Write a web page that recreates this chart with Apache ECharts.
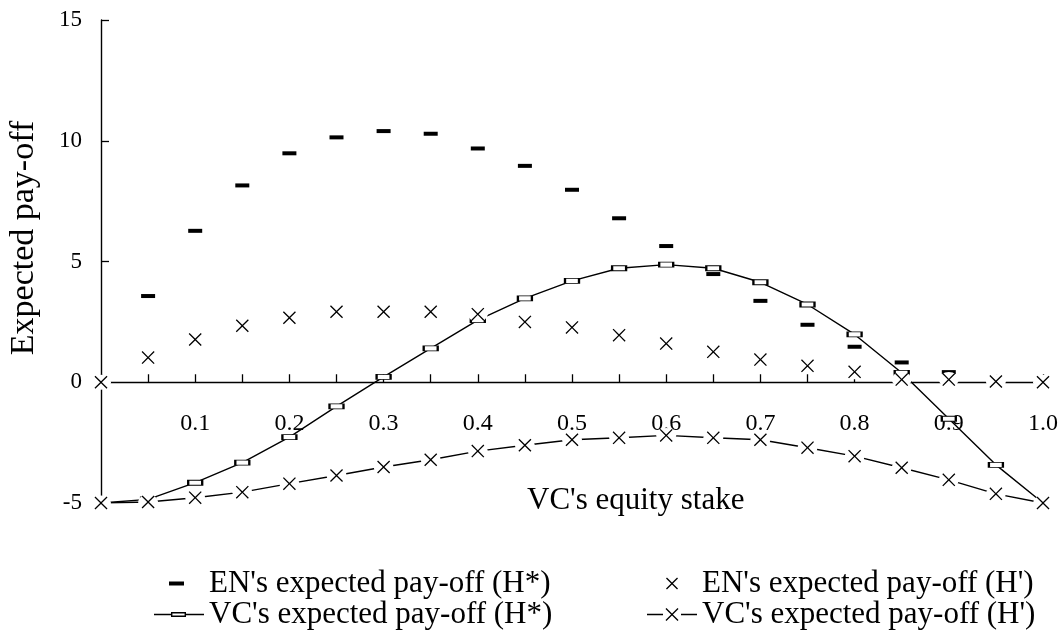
<!DOCTYPE html>
<html><head><meta charset="utf-8">
<script src="https://cdn.jsdelivr.net/npm/echarts@6/dist/echarts.min.js"></script>
<style>html,body{margin:0;padding:0;background:#fff}#c{width:1064px;height:630px}</style>
</head><body><div id="c"></div>
<script>
// ---- data ----
const stakes = [0, 0.05, 0.1, 0.15, 0.2, 0.25, 0.3, 0.35, 0.4, 0.45, 0.5, 0.55, 0.6, 0.65, 0.7, 0.75, 0.8, 0.85, 0.9, 0.95, 1.0];
const enHStar  = [0, 3.57, 6.27, 8.15, 9.48, 10.14, 10.40, 10.29, 9.68, 8.96, 7.97, 6.79, 5.64, 4.48, 3.37, 2.38, 1.47, 0.82, 0.42, 0.1, 0];
const vcHStar  = [-5, -4.85, -4.16, -3.33, -2.27, -1.0, 0.22, 1.40, 2.57, 3.47, 4.20, 4.72, 4.87, 4.72, 4.14, 3.22, 1.98, 0.39, -1.51, -3.42, -5];
const enHPrime = [0, 1.02, 1.77, 2.34, 2.67, 2.92, 2.92, 2.92, 2.82, 2.50, 2.27, 1.95, 1.60, 1.26, 0.94, 0.68, 0.43, 0.11, 0.11, 0.03, 0];
const vcHPrime = [-5, -4.96, -4.78, -4.55, -4.20, -3.86, -3.51, -3.21, -2.85, -2.61, -2.38, -2.30, -2.20, -2.30, -2.38, -2.71, -3.06, -3.54, -4.04, -4.62, -5];
const xTickLabels = ['0.1', '0.2', '0.3', '0.4', '0.5', '0.6', '0.7', '0.8', '0.9', '1.0'];
const yTickValues = [-5, 0, 5, 10, 15];
const names = ["EN's expected pay-off (H*)", "VC's expected pay-off (H*)", "EN's expected pay-off (H')", "VC's expected pay-off (H')"];
const xAxisTitle = "VC's equity stake";
const yAxisTitle = "Expected pay-off";

// ---- build ----
const pairs = arr => stakes.map((x, i) => [x, arr[i]]);
const FONT = 'Liberation Serif';
const CROSS = 'path://M0,7L7,0L50,43L93,0L100,7L57,50L100,93L93,100L50,57L7,100L0,93L43,50Z';
const SPECK = 'M0 0h0.01v0.01h-0.01Z M49.99 13.99h0.01v0.01h-0.01Z ';
const xIcon = (x0, x1, y0, y1) => {
  const k = 0.95, cx = (x0 + x1) / 2, cy = (y0 + y1) / 2;
  return `M${x0} ${y0 + k}L${x0 + k} ${y0}L${cx} ${cy - k}L${x1 - k} ${y0}L${x1} ${y0 + k}L${cx + k} ${cy}L${x1} ${y1 - k}L${x1 - k} ${y1}L${cx} ${cy + k}L${x0 + k} ${y1}L${x0} ${y1 - k}L${cx - k} ${cy}Z `;
};
const icons = [
  'path://' + SPECK + 'M15 5h15v4h-15Z',
  'path://' + SPECK + 'M0 6.3h17v1.4h-17Z M32 6.3h18v1.4h-18Z M17 4.5h15v5h-15Z M18.4 5.9v2.2h12.2v-2.2Z',
  'path://' + SPECK + xIcon(19, 31, 1, 13),
  'path://' + SPECK + 'M0 6.3h16v1.4h-16Z M34 6.3h16v1.4h-16Z ' + xIcon(18.5, 31.5, 0.5, 13.5)
];
const legendPos = [[149, 563], [149, 594], [642, 563], [642, 594]];
const legends = names.map((n, i) => ({
  left: legendPos[i][0], top: legendPos[i][1], orient: 'horizontal',
  itemWidth: 50, itemHeight: 14, selectedMode: false,
  itemStyle: { color: '#000', borderWidth: 0 },
  textStyle: { fontFamily: FONT, fontSize: 31, color: '#000' },
  data: [{ name: n, icon: icons[i] }]
}));

const GRID_TOP = 20, GRID_BOTTOM = 127, H = 630;
const yMin = yTickValues[0], yMax = yTickValues[yTickValues.length - 1];
const zeroOffset = -(H - GRID_TOP - GRID_BOTTOM) * (0 - yMin) / (yMax - yMin);

const chart = echarts.init(document.getElementById('c'));
chart.setOption({
  backgroundColor: '#fff',
  animation: false,
  grid: { left: 101, right: 21, top: GRID_TOP, bottom: GRID_BOTTOM, containLabel: false },
  legend: legends,
  graphic: [
    { type: 'text', left: 527, top: 485, style: { text: xAxisTitle, font: `31px "${FONT}"`, fill: '#000' } },
    { type: 'text', x: 24, y: 238, rotation: Math.PI / 2,
      style: { text: yAxisTitle, font: `34px "${FONT}"`, fill: '#000', align: 'center', verticalAlign: 'middle' } }
  ],
  xAxis: {
    type: 'value', min: 0, max: 1, interval: 0.05, position: 'bottom', offset: zeroOffset,
    axisLine: { show: true, onZero: false, lineStyle: { color: '#000', width: 1.4 } },
    axisTick: { show: true, inside: true, length: 8, lineStyle: { color: '#000', width: 1.3 } },
    splitLine: { show: false },
    axisLabel: {
      margin: 29, color: '#000', fontFamily: FONT, fontSize: 24,
      formatter: v => { const k = Math.round(v * 20); return (k > 0 && k % 2 === 0) ? xTickLabels[k / 2 - 1] : ''; }
    }
  },
  yAxis: {
    type: 'value', min: yMin, max: yMax, interval: 5,
    axisLine: { show: true, onZero: false, lineStyle: { color: '#000', width: 1.4 } },
    axisTick: { show: true, inside: true, length: 8, lineStyle: { color: '#000', width: 1.3 } },
    splitLine: { show: false },
    axisLabel: { margin: 19, color: '#000', fontFamily: FONT, fontSize: 23 }
  },
  series: [
    { name: names[1], type: 'line', data: pairs(vcHStar), symbol: 'none', z: 1,
      itemStyle: { color: '#000' }, lineStyle: { color: '#000', width: 1.4 } },
    { name: names[3], type: 'line', data: pairs(vcHPrime), symbol: 'none', z: 1,
      itemStyle: { color: '#000' }, lineStyle: { color: '#000', width: 1.4 } },
    { name: names[0], type: 'scatter', data: pairs(enHStar), symbol: 'rect', symbolSize: [14, 4], z: 2,
      itemStyle: { color: '#000', opacity: 1 } },
    { name: names[1], type: 'scatter', data: pairs(vcHStar), symbol: 'rect', symbolSize: [14, 5], z: 2,
      itemStyle: { color: '#fff', borderColor: '#000', borderWidth: 1.4, opacity: 1 } },
    { type: 'scatter', data: pairs(enHPrime), symbol: 'circle', symbolSize: [20, 15], z: 3, silent: true,
      itemStyle: { color: '#fff', opacity: 1 } },
    { type: 'scatter', data: pairs(vcHPrime), symbol: 'circle', symbolSize: [20, 15], z: 3, silent: true,
      itemStyle: { color: '#fff', opacity: 1 } },
    { name: names[2], type: 'scatter', data: pairs(enHPrime), symbol: CROSS, symbolSize: 13, z: 4,
      itemStyle: { color: '#000', opacity: 1 } },
    { name: names[3], type: 'scatter', data: pairs(vcHPrime), symbol: CROSS, symbolSize: 13, z: 4,
      itemStyle: { color: '#000', opacity: 1 } }
  ]
});
</script></body></html>
